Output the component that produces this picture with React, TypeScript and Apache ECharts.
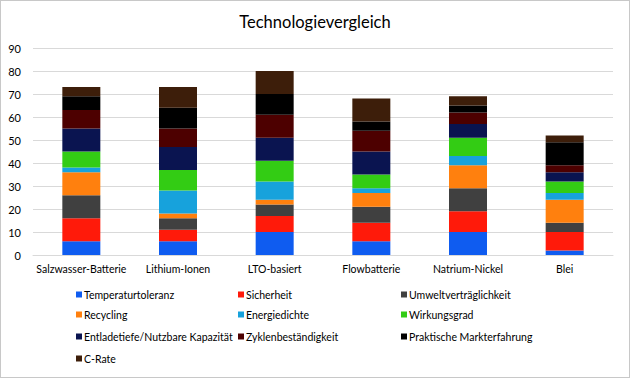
import React, { useEffect, useRef } from "react";
import * as echarts from "echarts";

const categories = ["Salzwasser-Batterie", "Lithium-Ionen", "LTO-basiert", "Flowbatterie", "Natrium-Nickel", "Blei"];
const seriesNames = [
  "Temperaturtoleranz",
  "Sicherheit",
  "Umweltverträglichkeit",
  "Recycling",
  "Energiedichte",
  "Wirkungsgrad",
  "Entladetiefe/Nutzbare Kapazität",
  "Zyklenbeständigkeit",
  "Praktische Markterfahrung",
  "C-Rate",
];
const temperaturtoleranz = [6, 6, 10, 6, 10, 2];
const sicherheit = [10, 5, 7, 8, 9, 8];
const umwelt = [10, 5, 5, 7, 10, 4];
const recycling = [10, 2, 2, 6, 10, 10];
const energiedichte = [2, 10, 8, 2, 4, 3];
const wirkungsgrad = [7, 9, 9, 6, 8, 5];
const entladetiefe = [10, 10, 10, 10, 6, 4];
const zyklen = [8, 8, 10, 9, 5, 3];
const markterfahrung = [6, 9, 9, 4, 3, 10];
const cRate = [4, 9, 10, 10, 4, 3];
const seriesValues = [temperaturtoleranz, sicherheit, umwelt, recycling, energiedichte, wirkungsgrad, entladetiefe, zyklen, markterfahrung, cRate];
const colors = ["#0F5CF0", "#FF1A0A", "#404040", "#FF800E", "#17A2DC", "#33CC14", "#0A1450", "#4D0000", "#000000", "#3D1E0A"];
const legendLefts = [75, 237, 400];
const legendTops = [288, 308, 330, 352];

export default function App() {
  const ref = useRef<HTMLDivElement>(null);
  useEffect(() => {
    const chart = echarts.init(ref.current!, null, { renderer: "svg" });
    const font = "Lato, 'Open Sans', sans-serif";
    chart.setOption({
      animation: false,
      color: colors,
      textStyle: { fontFamily: font },
      title: {
        text: "Technologievergleich",
        left: "center",
        top: 7,
        textStyle: { fontFamily: font, fontSize: 16.5, fontWeight: "normal", color: "#000" },
      },
      grid: { left: 32, right: 16, top: 47, bottom: 122, containLabel: false },
      legend: seriesNames.map((name, i) => ({
        data: [name],
        left: legendLefts[i % 3],
        top: legendTops[Math.floor(i / 3)],
        itemWidth: 6,
        itemHeight: 6,
        itemGap: 0,
        icon: "rect",
        textStyle: { fontFamily: font, fontSize: 10.5, color: "#000", padding: [0, 0, 0, -3] },
        padding: 0,
      })),
      xAxis: {
        type: "category",
        data: categories,
        axisLine: { lineStyle: { color: "#d9d9d9" } },
        axisTick: { show: false },
        axisLabel: { color: "#000", fontSize: 10.5, fontFamily: font, margin: 8, interval: 0 },
      },
      yAxis: {
        type: "value",
        min: 0,
        max: 90,
        interval: 10,
        axisLabel: { color: "#000", fontSize: 11, fontFamily: font, margin: 12 },
        splitLine: { lineStyle: { color: "#d9d9d9" } },
      },
      series: seriesNames.map((name, i) => ({
        name,
        type: "bar",
        stack: "total",
        data: seriesValues[i],
        barWidth: 38,
        itemStyle: { color: colors[i] },
      })),
    });
    return () => chart.dispose();
  }, []);
  return (
    <div
      style={{
        position: "fixed",
        left: 0,
        top: 0,
        width: 630,
        height: 378,
        boxSizing: "border-box",
        border: "1px solid #c8c8c8",
        background: "#fff",
      }}
    >
      <div ref={ref} style={{ width: 628, height: 376 }} />
    </div>
  );
}
